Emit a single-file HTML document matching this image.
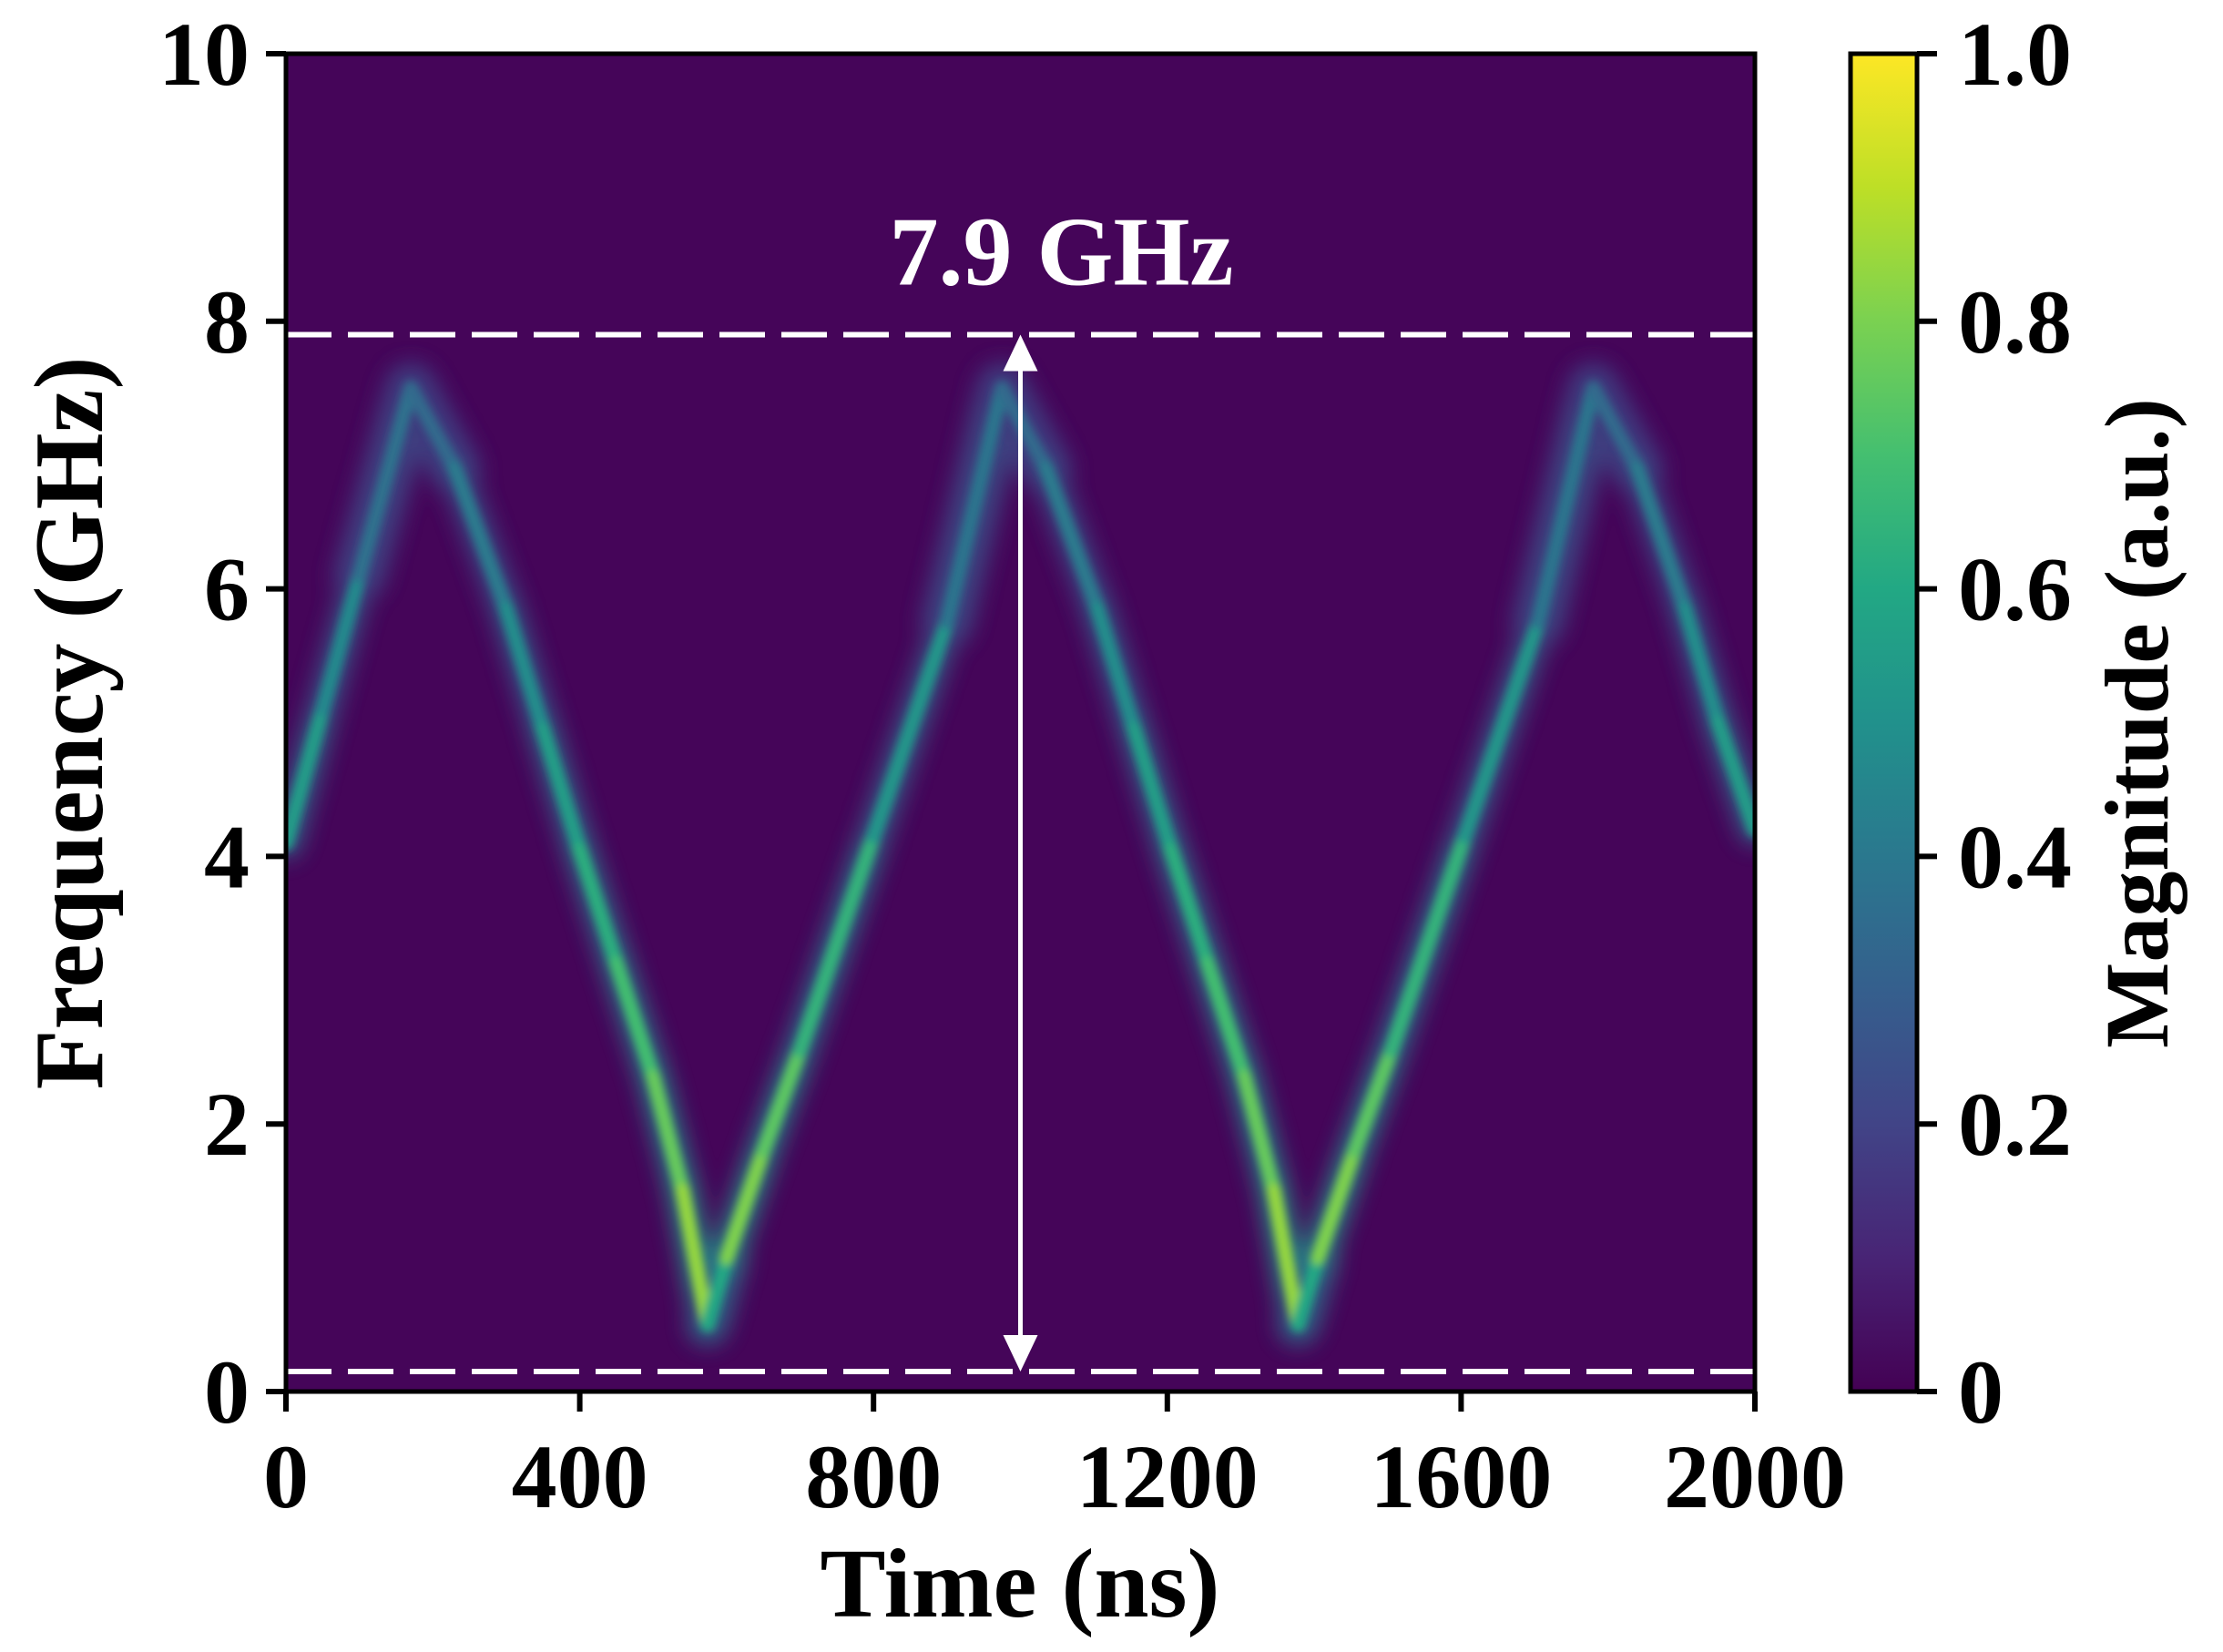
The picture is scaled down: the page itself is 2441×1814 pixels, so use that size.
<!DOCTYPE html>
<html><head><meta charset="utf-8"><style>
html,body{margin:0;padding:0;background:#fff;}
svg{display:block;}
text{font-family:"Liberation Serif","Times New Roman",serif;font-weight:bold;}
</style></head><body>
<svg id="chart" width="2441" height="1814" viewBox="0 0 2441 1814" xmlns="http://www.w3.org/2000/svg">
<defs>
<linearGradient id="viridis" x1="0" y1="1" x2="0" y2="0">
<stop offset="0" stop-color="#440154"/><stop offset="0.1" stop-color="#482475"/><stop offset="0.2" stop-color="#414487"/><stop offset="0.3" stop-color="#355f8d"/><stop offset="0.4" stop-color="#2a788e"/><stop offset="0.5" stop-color="#21918c"/><stop offset="0.6" stop-color="#22a884"/><stop offset="0.7" stop-color="#44bf70"/><stop offset="0.8" stop-color="#7ad151"/><stop offset="0.9" stop-color="#bddf26"/><stop offset="1" stop-color="#fde725"/>
</linearGradient>
<filter id="blurWide" x="-50%" y="-50%" width="200%" height="200%"><feGaussianBlur stdDeviation="12"/></filter>
<filter id="blurCore" x="-50%" y="-50%" width="200%" height="200%"><feGaussianBlur stdDeviation="4.5"/></filter>
<clipPath id="plotClip"><rect x="314" y="59" width="1613" height="1469"/></clipPath>
</defs>
<rect x="314" y="59" width="1613" height="1469" fill="#450559"/>
<g id="trace" clip-path="url(#plotClip)"></g>
<g id="annot"></g>
<rect x="314" y="59" width="1613" height="1469" fill="none" stroke="#000" stroke-width="5"/>
<rect x="2032" y="59" width="73" height="1469" fill="url(#viridis)" stroke="#000" stroke-width="5"/>
<g id="axes"></g>
<text x="1120" y="1775" font-size="108" text-anchor="middle">Time (ns)</text>
<text transform="translate(112,794) rotate(-90)" font-size="108" text-anchor="middle">Frequency (GHz)</text>
<text transform="translate(2380,794) rotate(-90)" font-size="100" text-anchor="middle">Magnitude (a.u.)</text>
</svg>
<script>
const times=[0,50,100,170,230,300,350,400,450,500,540,574,600,650,700,800,900,975,1035,1105,1155,1205,1255,1305,1345,1378,1405,1455,1505,1605,1705,1780,1840,1905,1950,2000];
const freqs=[4.1,5.1,6.1,7.5,6.9,5.85,4.95,4.05,3.2,2.35,1.5,0.5,1.0,1.8,2.55,4.15,5.75,7.5,6.9,5.85,4.95,4.05,3.2,2.35,1.5,0.5,1.0,1.8,2.55,4.15,5.75,7.5,6.9,5.85,5.0,4.2];
const xTicks=[0,400,800,1200,1600,2000];
const yTicks=[0,2,4,6,8,10];
const cTicks=[0,0.2,0.4,0.6,0.8,1.0];
const cTickLabels=["0","0.2","0.4","0.6","0.8","1.0"];
const upperLine=7.9;
const lowerLine=0.15;
const arrowTime=1000;
const annotLabel="7.9 GHz";

const NS="http://www.w3.org/2000/svg";
const L=314,R=1927,T=59,B=1528;
const X=t=>L+(t-0)/2000*(R-L);
const Y=f=>B-(f-0)/10*(B-T);
const C=v=>B-v*(B-T);
const vir=["#440154","#482475","#414487","#355f8d","#2a788e","#21918c","#22a884","#44bf70","#7ad151","#bddf26","#fde725"];
function hex(h){return [parseInt(h.slice(1,3),16),parseInt(h.slice(3,5),16),parseInt(h.slice(5,7),16)];}
function viridis(v){v=Math.max(0,Math.min(1,v));const p=v*10,i=Math.min(9,Math.floor(p)),fr=p-i;const a=hex(vir[i]),b=hex(vir[i+1]);return `rgb(${a.map((c,k)=>Math.round(c+(b[k]-c)*fr)).join(',')})`;}
function mk(tag,attrs,parent){const e=document.createElementNS(NS,tag);for(const k in attrs)e.setAttribute(k,attrs[k]);parent.appendChild(e);return e;}

const trace=document.getElementById('trace');
const wide=mk('g',{filter:'url(#blurWide)',opacity:'0.8'},trace);
const core=mk('g',{filter:'url(#blurCore)'},trace);
for(let i=0;i<times.length-1;i++){
  const fm=(freqs[i]+freqs[i+1])/2;
  const mag=fm<1?0.6:0.92-0.08*fm;
  const w=mk('line',{x1:X(times[i]),y1:Y(freqs[i]),x2:X(times[i+1]),y2:Y(freqs[i+1]),stroke:viridis(mag*0.65),'stroke-width':fm>6.5?55:(fm<1?45:34),'stroke-linecap':'round'},wide);
  
  
  const c=mk('line',{x1:X(times[i]),y1:Y(freqs[i]),x2:X(times[i+1]),y2:Y(freqs[i+1]),stroke:viridis(mag),'stroke-width':16,'stroke-linecap':'round'},core);
  
  
}

const an=document.getElementById('annot');
[upperLine,lowerLine].forEach((f,i)=>{
  const l=mk('line',{x1:L,x2:R,y1:Y(f),y2:Y(f),stroke:'#fff','stroke-width':6,'stroke-dasharray':'50 18'},an);
  
  
});
const ax=X(arrowTime),ay1=Y(upperLine),ay2=Y(lowerLine);
const shaft=mk('line',{x1:ax,x2:ax,y1:ay1+30,y2:ay2-30,stroke:'#fff','stroke-width':5},an);


const h1=mk('polygon',{points:`${ax},${ay1} ${ax-19},${ay1+40} ${ax+19},${ay1+40}`,fill:'#fff'},an);


const h2=mk('polygon',{points:`${ax},${ay2} ${ax-19},${ay2-40} ${ax+19},${ay2-40}`,fill:'#fff'},an);


const at=mk('text',{x:ax+45,y:Y(upperLine)-55,'font-size':'108',fill:'#fff','text-anchor':'middle'},an);
at.textContent=annotLabel;



const axes=document.getElementById('axes');
xTicks.forEach(t=>{
  const tk=mk('line',{x1:X(t),x2:X(t),y1:B,y2:B+22,stroke:'#000','stroke-width':6},axes);
  
  
  const tx=mk('text',{x:X(t),y:1655,'font-size':'100','text-anchor':'middle'},axes);
  tx.textContent=t;
  
  
});
yTicks.forEach(f=>{
  const tk=mk('line',{x1:L-22,x2:L,y1:Y(f),y2:Y(f),stroke:'#000','stroke-width':6},axes);
  
  
  const tx=mk('text',{x:L-40,y:Y(f)+34,'font-size':'100','text-anchor':'end'},axes);
  tx.textContent=f;
  
  
});
cTicks.forEach((v,i)=>{
  const tk=mk('line',{x1:2105,x2:2127,y1:C(v),y2:C(v),stroke:'#000','stroke-width':6},axes);
  
  
  const tx=mk('text',{x:2150,y:C(v)+34,'font-size':'100','text-anchor':'start'},axes);
  tx.textContent=cTickLabels[i];
  
  
});
</script>
</body></html>
